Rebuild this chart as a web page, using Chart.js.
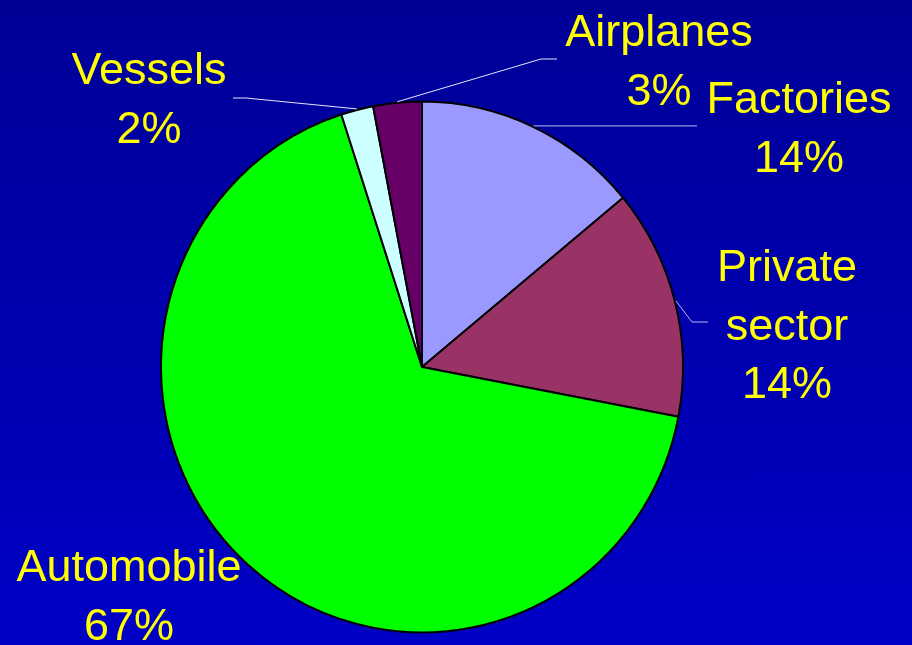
<!DOCTYPE html>
<html>
<head>
<meta charset="utf-8">
<script src="https://cdn.jsdelivr.net/npm/chart.js@4"></script>
<style>
  html, body { margin: 0; padding: 0; }
  body { width: 912px; height: 645px; overflow: hidden;
         background: linear-gradient(to bottom, #000096 0%, #0000c6 100%); }
  #wrap { position: relative; width: 912px; height: 645px; }
</style>
</head>
<body>
<div id="wrap"><canvas id="c" width="912" height="645"></canvas></div>
<script>
const categories = ["Factories", "Private sector", "Automobile", "Vessels", "Airplanes"];
const shares = [14, 14, 67, 2, 3];
const sliceColors = ["#9999ff", "#993366", "#00ff00", "#ccffff", "#660066"];

// label layout: text center x, first baseline y, optional leader elbow/end
const labelLayout = [
  { x: 799, y: 113, leader: [[697, 126]], leaderHoriz: true },
  { x: 787, y: 281, leader: [[692, 322], [708, 322]] },
  { x: 129, y: 581, leader: null },
  { x: 149, y: 84,  leader: [[246, 98], [233, 98]] },
  { x: 659, y: 46,  leader: [[541, 59], [557, 59]] }
];
const yStretch = 1.017;

const labelPlugin = {
  id: 'sliceLabels',
  beforeDatasetsDraw(chart) {
    const ctx = chart.ctx;
    const a = chart.getDatasetMeta(0).data[0];
    ctx.save();
    ctx.translate(a.x, a.y);
    ctx.scale(1, yStretch);
    ctx.translate(-a.x, -a.y);
  },
  afterDatasetsDraw(chart) {
    const ctx = chart.ctx;
    ctx.restore();
    const meta = chart.getDatasetMeta(0);
    ctx.save();
    meta.data.forEach((arc, i) => {
      const L = labelLayout[i];
      const p = arc.getProps(['x', 'y', 'startAngle', 'endAngle', 'outerRadius'], true);
      const mid = (p.startAngle + p.endAngle) / 2;
      if (L.leader) {
        const sx = p.x + Math.cos(mid) * (p.outerRadius + 1);
        const sy = p.y + Math.sin(mid) * (p.outerRadius + 1) * yStretch;
        ctx.beginPath();
        ctx.strokeStyle = i === 0 || i === 1 ? '#b8b8f0' : '#e8e8ff';
        ctx.lineWidth = 1;
        ctx.moveTo(sx, sy);
        L.leader.forEach(pt => ctx.lineTo(pt[0], L.leaderHoriz ? sy : pt[1]));
        ctx.stroke();
      }
      const lines = categories[i].split(' ').concat([shares[i] + '%']);
      ctx.fillStyle = '#ffff00';
      ctx.font = '45px "Liberation Sans", Arial, sans-serif';
      ctx.textAlign = 'center';
      ctx.textBaseline = 'alphabetic';
      lines.forEach((t, k) => ctx.fillText(t, L.x, L.y + k * 58.5));
    });
    ctx.restore();
  }
};

new Chart(document.getElementById('c'), {
  type: 'pie',
  data: {
    labels: categories,
    datasets: [{
      data: shares,
      backgroundColor: sliceColors,
      borderColor: '#000000',
      borderWidth: 2
    }]
  },
  options: {
    responsive: false,
    animation: false,
    layout: { padding: { left: 160, right: 228, top: 105, bottom: 16 } },
    plugins: { legend: { display: false }, tooltip: { enabled: false } }
  },
  plugins: [labelPlugin]
});
</script>
</body>
</html>
